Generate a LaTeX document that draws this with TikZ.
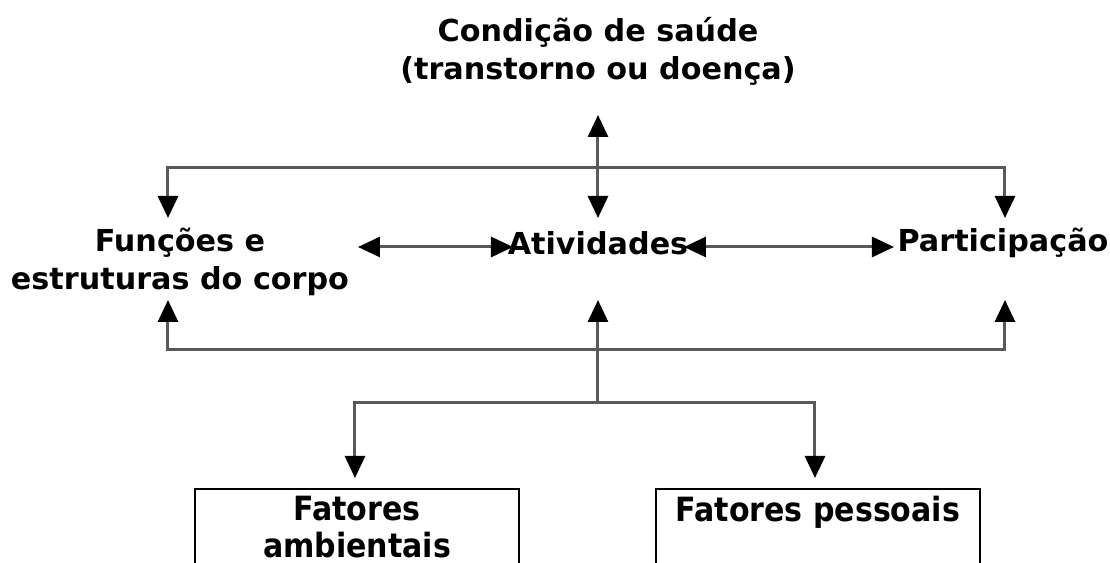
\documentclass[tikz,border=0pt]{standalone}
\usepackage{fontspec}
\setmainfont{DejaVu Sans}
\newfontfamily\condfont{DejaVu Sans Condensed}
\usetikzlibrary{arrows.meta,positioning}

\begin{document}
\begin{tikzpicture}[>={Triangle[length=2.2mm,width=2mm,color=black]},
      line width=0.3mm, draw=black!65,
      every node/.style={font=\fontsize{8.6}{10.8}\selectfont\bfseries,align=center},
      factbox/.style={draw=black,line width=0.2mm,minimum height=0.76cm,inner ysep=1pt,
        font=\fontsize{9.5}{10.4}\selectfont\condfont\bfseries} ]
      \clip (0,0) rectangle (11.1,-5.63);
      % texts
      \node (cond) at (5.98,-0.51) {Condição de saúde\\(transtorno ou doença)};
      \node (fun) at (1.80,-2.62) {Funções e\\estruturas do corpo};
      \node (ativ) at (5.98,-2.43) {Atividades};
      \node (part) at (10.03,-2.43) {Participação};
      \node[factbox,minimum width=3.24cm,anchor=north] (amb) at (3.57,-4.88) {Fatores\\ambientais};
      \node[factbox,minimum width=3.24cm,anchor=north] (pes) at (8.18,-4.88) {Fatores pessoais\\\mbox{}};
      % junctions and arrow ends
      \coordinate (top) at (5.98,-1.68);
      \coordinate (bot) at (5.98,-3.50);
      \coordinate (fork) at (5.98,-4.03);
      \coordinate (condend) at (5.98,-1.15);
      \coordinate (ativtop) at (5.98,-2.18);
      \coordinate (ativbot) at (5.98,-3.00);
      \coordinate (funtop) at (1.68,-2.18);
      \coordinate (funbot) at (1.68,-3.00);
      \coordinate (parttop) at (10.05,-2.18);
      \coordinate (partbot) at (10.05,-3.00);
      \coordinate (funright) at (3.58,-2.47);
      \coordinate (ativleft) at (5.13,-2.47);
      \coordinate (ativright) at (6.84,-2.47);
      \coordinate (partleft) at (8.94,-2.47);
      \coordinate (ambtop) at (3.55,-4.78);
      \coordinate (pestop) at (8.15,-4.78);
      % upper arrows
      \draw[<->] (condend) -- (ativtop);
      \draw[->] (top) -| (funtop);
      \draw[->] (top) -| (parttop);
      % middle arrows
      \draw[<->] (funright) -- (ativleft);
      \draw[<->] (ativright) -- (partleft);
      % lower arrows
      \draw[->] (fork) -- (ativbot);
      \draw[->] (bot) -| (funbot);
      \draw[->] (bot) -| (partbot);
      \draw[->] (fork) -| (ambtop);
      \draw[->] (fork) -| (pestop);
\end{tikzpicture}
\end{document}
